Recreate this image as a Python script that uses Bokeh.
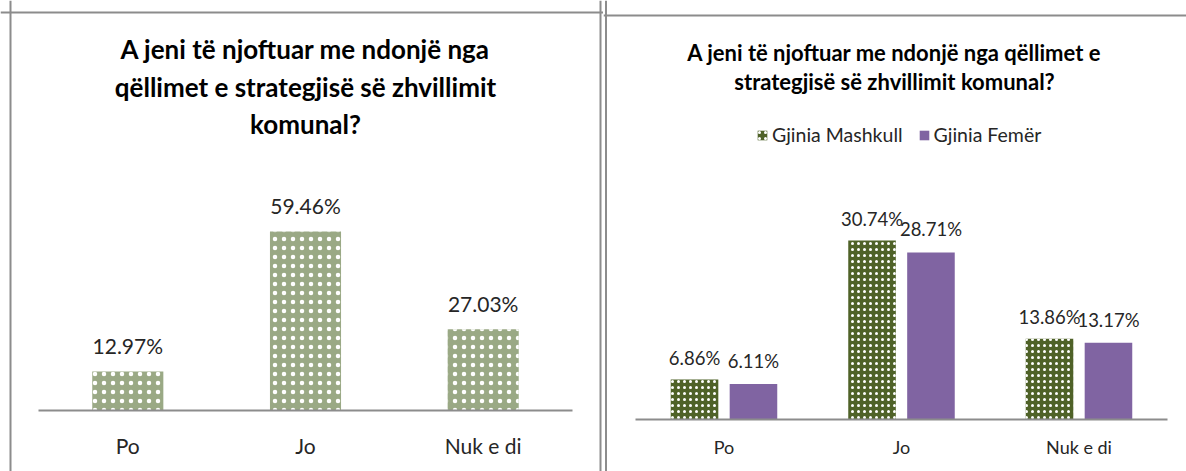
from bokeh.plotting import figure
from bokeh.models import (ColumnDataSource, LabelSet, Label, Legend, LegendItem,
                          Range1d, Span, FixedTicker)
from bokeh.transform import dodge
from bokeh.layouts import row
from bokeh.core.properties import value
from bokeh.embed import file_html
from bokeh.resources import INLINE

# ---------------- data ----------------
title_left = ["A jeni të njoftuar me ndonjë nga",
              "qëllimet e strategjisë së zhvillimit",
              "komunal?"]
title_right = ["A jeni të njoftuar me ndonjë nga qëllimet e",
               "strategjisë së zhvillimit komunal?"]
categories = ["Po", "Jo", "Nuk e di"]
total_values = [12.97, 59.46, 27.03]
male_values = [6.86, 30.74, 13.86]
female_values = [6.11, 28.71, 13.17]
series_names = ["Gjinia Mashkull", "Gjinia Femër"]

FONT = "Lato"
TEXT = "#262626"
BORDER = "#8C8C8C"
H = 471
positions = list(range(len(categories)))
overrides = {i: c for i, c in zip(positions, categories)}


def pct(vals):
    return [f"{v:.2f}%" for v in vals]


class Geo:
    """pixel geometry of one panel (local canvas pixels)"""
    def __init__(self, width, cat0, step, base, ppu):
        self.width, self.cat0, self.step, self.base, self.ppu = width, cat0, step, base, ppu

    def x(self, px):
        return (px - self.cat0) / self.step

    def y(self, py):
        return (self.base - py) / self.ppu

    def xr(self):
        return Range1d(self.x(0), self.x(self.width))

    def yr(self):
        return Range1d(self.y(H), self.y(0))


def make_fig(g):
    p = figure(width=g.width, height=H, x_range=g.xr(), y_range=g.yr(),
               y_axis_location=None, output_backend="svg", toolbar_location=None,
               min_border_left=0, min_border_right=0, min_border_top=0,
               min_border_bottom=0)
    p.xgrid.visible = False
    p.ygrid.visible = False
    p.outline_line_color = None
    p.background_fill_color = "white"
    return p


def style_axis(p, size, standoff):
    ax = p.xaxis[0]
    ax.fixed_location = 0
    ax.bounds = (positions[0] - 0.5, positions[-1] + 0.5)
    ax.ticker = FixedTicker(ticks=positions)
    ax.major_label_overrides = overrides
    ax.axis_line_color = BORDER
    ax.axis_line_width = 2
    ax.major_tick_line_color = None
    ax.minor_tick_line_color = None
    ax.major_tick_out = 0
    ax.major_tick_in = 0
    ax.major_label_standoff = standoff
    ax.major_label_text_font = FONT
    ax.major_label_text_font_size = size
    ax.major_label_text_color = TEXT


def border(p, g, left=None, right=None, top=None):
    if left is not None:
        p.add_layout(Span(location=g.x(left), dimension="height",
                          line_color=BORDER, line_width=2))
    if right is not None:
        p.add_layout(Span(location=g.x(right), dimension="height",
                          line_color=BORDER, line_width=2))
    if top is not None:
        p.add_layout(Span(location=g.y(top), dimension="width",
                          line_color=BORDER, line_width=2))


# ---------------- left panel ----------------
g1 = Geo(width=603, cat0=127.3, step=177.7, base=410, ppu=3.01)
p1 = make_fig(g1)
style_axis(p1, "21px", 22)
border(p1, g1, left=10, right=600, top=12)

src1 = ColumnDataSource(dict(x=positions, val=total_values, lbl=pct(total_values)))
p1.vbar(x="x", top="val", width=0.4, source=src1,
        fill_color="#9AA985", line_color=None,
        hatch_pattern="dot", hatch_color="white", hatch_scale=9, hatch_weight=1.1)
p1.add_layout(LabelSet(x="x", y="val", text="lbl", source=src1,
                       text_align="center", text_baseline="middle", y_offset=26,
                       text_font=value(FONT), text_font_size="21px", text_color=TEXT))
for line, py in zip(title_left, [48, 86, 123]):
    p1.add_layout(Label(x=g1.x(305), y=g1.y(py), text=line,
                        text_align="center", text_baseline="middle",
                        text_font=FONT, text_font_style="bold", text_font_size="26px",
                        text_color="black"))

# ---------------- right panel ----------------
OFF = 603
g2 = Geo(width=1186 - OFF, cat0=723.5 - OFF, step=177.5, base=419, ppu=5.82)
p2 = make_fig(g2)
style_axis(p2, "18px", 16)
border(p2, g2, left=605.5 - OFF, top=15)

src2 = ColumnDataSource(dict(x=positions, male=male_values, female=female_values,
                             ml=pct(male_values), fl=pct(female_values)))
r_m = p2.vbar(x=dodge("x", -0.166), top="male", width=0.268,
              source=src2, fill_color="#4F6228", line_color=None,
              hatch_pattern="dot", hatch_color="white", hatch_scale=6, hatch_weight=1.1)
r_f = p2.vbar(x=dodge("x", 0.166), top="female", width=0.268,
              source=src2, fill_color="#8064A2", line_color=None)
p2.add_layout(LabelSet(x=dodge("x", -0.166), y="male", text="ml",
                       source=src2, text_align="center", text_baseline="middle",
                       y_offset=22, text_font=value(FONT), text_font_size="18.5px",
                       text_color=TEXT))
p2.add_layout(LabelSet(x=dodge("x", 0.166), y="female", text="fl",
                       source=src2, text_align="center", text_baseline="middle",
                       y_offset=23, text_font=value(FONT), text_font_size="18.5px",
                       text_color=TEXT))
for line, py in zip(title_right, [52, 81]):
    p2.add_layout(Label(x=g2.x(894 - OFF), y=g2.y(py), text=line,
                        text_align="center", text_baseline="middle",
                        text_font=FONT, text_font_style="bold", text_font_size="22px",
                        text_color="black"))
legend = Legend(items=[LegendItem(label=series_names[0], renderers=[r_m]),
                       LegendItem(label=series_names[1], renderers=[r_f])],
                orientation="horizontal", location=(756 - OFF, H - 146),
                padding=0, margin=0, spacing=15, glyph_width=12, glyph_height=12,
                label_standoff=4, label_height=20,
                label_text_font=FONT, label_text_font_size="19.5px", label_text_color=TEXT,
                border_line_color=None, background_fill_alpha=0)
p2.add_layout(legend)

layout = row(p1, p2)
open("out.html", "w").write(file_html(layout, INLINE))
